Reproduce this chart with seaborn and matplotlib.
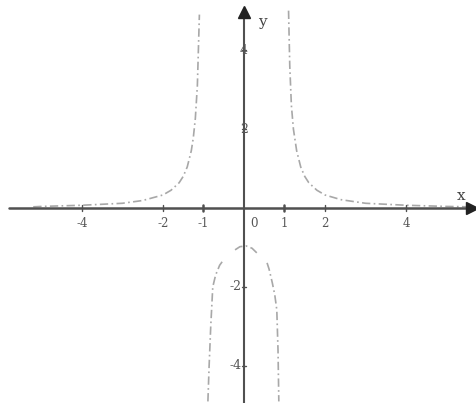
import pandas as pd
import matplotlib
matplotlib.use('Agg')
import matplotlib.pyplot as plt
import seaborn as sns

# points, one list per branch
left_x = [-5.2, -5.0, -4.0, -3.0, -2.5, -2.0, -1.8, -1.6, -1.5, -1.4, -1.3, -1.25, -1.2, -1.15, -1.1]
left_y = [0.03, 0.04, 0.07, 0.12, 0.19, 0.33, 0.45, 0.64, 0.8, 1.04, 1.45, 1.78, 2.27, 3.1, 4.9]

right_x = [1.1, 1.13, 1.17, 1.22, 1.3, 1.4, 1.5, 1.6, 1.8, 2.0, 2.4, 3.0, 4.0, 5.0, 5.6]
right_y = [5.0, 3.6, 2.6, 2.0, 1.45, 1.04, 0.8, 0.64, 0.45, 0.33, 0.21, 0.12, 0.07, 0.04, 0.03]

low_left_x = [-0.89, -0.86, -0.82, -0.77, -0.7, -0.6, -0.53]
low_left_y = [-4.9, -4.0, -3.0, -2.0, -1.7, -1.45, -1.35]

low_top_x = [-0.22, -0.1, 0.05, 0.2, 0.32]
low_top_y = [-1.06, -0.98, -0.96, -1.02, -1.14]

low_right_x = [0.57, 0.62, 0.7, 0.76, 0.81, 0.84, 0.86]
low_right_y = [-1.39, -1.55, -1.9, -2.2, -2.58, -3.6, -4.9]

x_ticks = [-4, -2, -1, 1, 2, 4]
y_ticks = [4, 2, -2, -4]

branches = {'left': (left_x, left_y), 'right': (right_x, right_y),
            'low_left': (low_left_x, low_left_y), 'low_top': (low_top_x, low_top_y),
            'low_right': (low_right_x, low_right_y)}
rows = []
for name, (xs, ys) in branches.items():
    for xv, yv in zip(xs, ys):
        rows.append({'branch': name, 'x': xv, 'y': yv})
df = pd.DataFrame(rows)

sns.set_style('white')
plt.rcParams['font.family'] = ['DejaVu Serif']

fig = plt.figure(figsize=(4.77, 4.03), dpi=100)
ax = fig.add_axes([0, 0, 1, 1])

sns.lineplot(data=df, x='x', y='y', units='branch', estimator=None, sort=False,
             color='#a8a8a8', linewidth=1.2, linestyle=(0, (5, 2, 1, 2)), ax=ax)

ax.set_xlim(-6.02, 5.75)
ax.set_ylim(-4.94, 5.27)

# axes drawn through the origin
axis_col = '#505050'
ax.plot([-5.8, 5.6], [0, 0], color=axis_col, linewidth=1.8, zorder=3)
ax.plot([0, 0], [-4.94, 5.0], color=axis_col, linewidth=1.5, zorder=3)
ax.plot([5.62], [0], marker='>', color='#222222', markersize=8, zorder=4, clip_on=False)
ax.plot([0], [4.97], marker='^', color='#222222', markersize=8, zorder=4)

for t in x_ticks:
    ax.plot([t, t], [-0.08, 0.08], color=axis_col, linewidth=1.8 if abs(t) == 1 else 1.0, zorder=3)
    ax.text(t, -0.22, str(t), ha='center', va='top', fontsize=8.5, color='#555555')
ax.text(0.25, -0.22, '0', ha='center', va='top', fontsize=8.5, color='#555555')
for t in y_ticks:
    ax.plot([-0.06, 0.06], [t, t], color=axis_col, linewidth=1.0, zorder=3)
    lx = 0.0 if t > 0 else -0.2
    ax.text(lx, t, str(t), ha='center', va='center', fontsize=9, color='#555555', zorder=5)

ax.text(0.45, 4.7, 'y', ha='center', va='center', fontsize=11, color='#444444')
ax.text(5.35, 0.3, 'x', ha='center', va='center', fontsize=11, color='#444444')

ax.set_axis_off()
fig.savefig('out.png', dpi=100)
